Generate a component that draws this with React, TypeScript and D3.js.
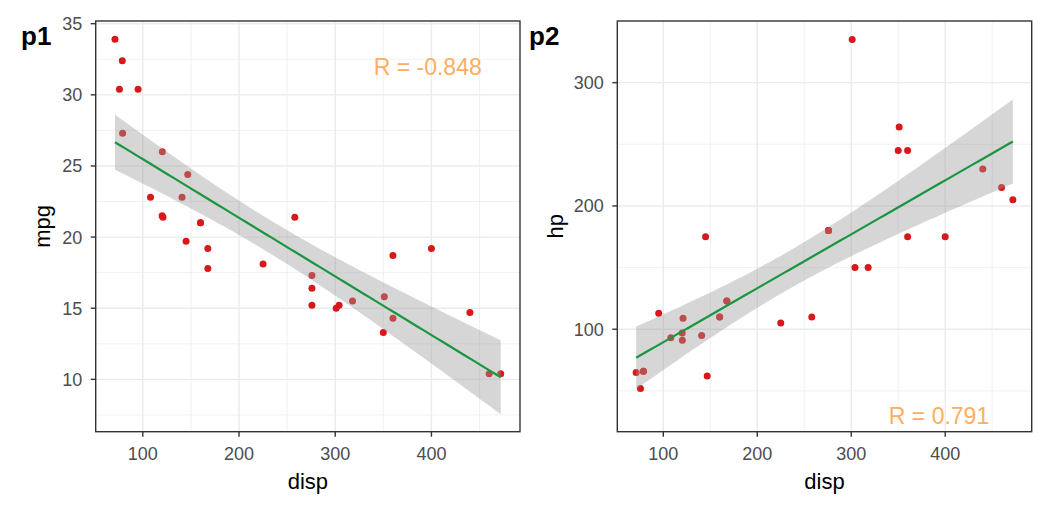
import React from "react";
import * as d3 from "d3";

// mtcars columns
const disp = [160, 160, 108, 258, 360, 225, 360, 146.7, 140.8, 167.6, 167.6, 275.8, 275.8, 275.8, 472, 460, 440, 78.7, 75.7, 71.1, 120.1, 318, 304, 350, 400, 79, 120.3, 95.1, 351, 145, 301, 121];
const mpg = [21, 21, 22.8, 21.4, 18.7, 18.1, 14.3, 24.4, 22.8, 19.2, 17.8, 16.4, 17.3, 15.2, 10.4, 10.4, 14.7, 32.4, 30.4, 33.9, 21.5, 15.5, 15.2, 13.3, 19.2, 27.3, 26, 30.4, 15.8, 19.7, 15, 21.4];
const hp = [110, 110, 93, 110, 175, 105, 245, 62, 95, 123, 123, 180, 180, 180, 205, 215, 230, 66, 52, 65, 97, 150, 150, 245, 175, 66, 91, 113, 264, 175, 335, 109];

const xTicks = [100, 200, 300, 400];
const xMinor = [150, 250, 350, 450];
const mpgTicks = [10, 15, 20, 25, 30, 35];
const mpgMinor = [7.5, 12.5, 17.5, 22.5, 27.5, 32.5];
const hpTicks = [100, 200, 300];
const hpMinor = [50, 150, 250];

const FONT = "'Liberation Sans', Arial, sans-serif";
const RED = "#d7191c";
const ORANGE = "#fdae61";
const GREEN = "#1a9641";

// lm fit with 95% confidence band, like geom_smooth(method = "lm")
function fitLm(xs: number[], ys: number[]) {
  const n = xs.length;
  const mx = d3.mean(xs)!;
  const my = d3.mean(ys)!;
  let sxx = 0, sxy = 0, syy = 0;
  for (let i = 0; i < n; i++) {
    sxx += (xs[i] - mx) ** 2;
    sxy += (xs[i] - mx) * (ys[i] - my);
    syy += (ys[i] - my) ** 2;
  }
  const b = sxy / sxx;
  const a = my - b * mx;
  let sse = 0;
  for (let i = 0; i < n; i++) sse += (ys[i] - a - b * xs[i]) ** 2;
  const s = Math.sqrt(sse / (n - 2));
  const t = 2.042272; // qt(0.975, 30)
  const [x0, x1] = d3.extent(xs) as [number, number];
  const grid = d3.range(80).map((i) => x0 + ((x1 - x0) * i) / 79);
  const pts = grid.map((x) => {
    const fit = a + b * x;
    const se = s * Math.sqrt(1 / n + (x - mx) ** 2 / sxx);
    return { x, fit, lo: fit - t * se, hi: fit + t * se };
  });
  const r = sxy / Math.sqrt(sxx * syy);
  return { pts, r };
}

type PanelProps = {
  left: number;
  right: number;
  ys: number[];
  yDomain: [number, number];
  yTicks: number[];
  yMinor: number[];
  yTitle: string;
  yTitleX: number;
  tag: string;
  tagX: number;
  labelPos: [number, number];
};

const top = 21;
const bottom = 431.7;

const Panel: React.FC<PanelProps> = (p) => {
  const x = d3.scaleLinear().domain([51.05, 492.05]).range([p.left, p.right]);
  const y = d3.scaleLinear().domain(p.yDomain).range([bottom, top]);
  const { pts, r } = fitLm(disp, p.ys);
  const band = d3
    .area<{ x: number; lo: number; hi: number }>()
    .x((d) => x(d.x))
    .y0((d) => y(d.lo))
    .y1((d) => y(d.hi));
  const line = d3
    .line<{ x: number; fit: number }>()
    .x((d) => x(d.x))
    .y((d) => y(d.fit));
  const cx = (p.left + p.right) / 2;
  const cy = (top + bottom) / 2;
  return (
    <g fontFamily={FONT}>
      <defs>
        <clipPath id={`clip-${p.tag}`}>
          <rect x={p.left} y={top} width={p.right - p.left} height={bottom - top} />
        </clipPath>
      </defs>
      <rect x={p.left} y={top} width={p.right - p.left} height={bottom - top} fill="#fff" />
      {xMinor.map((v) => (
        <line key={"xm" + v} x1={x(v)} x2={x(v)} y1={top} y2={bottom} stroke="#ebebeb" strokeWidth={0.7} />
      ))}
      {p.yMinor.map((v) => (
        <line key={"ym" + v} x1={p.left} x2={p.right} y1={y(v)} y2={y(v)} stroke="#ebebeb" strokeWidth={0.7} />
      ))}
      {xTicks.map((v) => (
        <line key={"xg" + v} x1={x(v)} x2={x(v)} y1={top} y2={bottom} stroke="#ebebeb" strokeWidth={1.4} />
      ))}
      {p.yTicks.map((v) => (
        <line key={"yg" + v} x1={p.left} x2={p.right} y1={y(v)} y2={y(v)} stroke="#ebebeb" strokeWidth={1.4} />
      ))}
      <g clipPath={`url(#clip-${p.tag})`}>
        {disp.map((d, i) => (
          <circle key={i} cx={x(d)} cy={y(p.ys[i])} r={3.5} fill={RED} />
        ))}
        <path d={band(pts) || ""} fill="#999999" fillOpacity={0.4} />
        <path d={line(pts) || ""} fill="none" stroke={GREEN} strokeWidth={2.2} />
      </g>
      <text
        x={x(p.labelPos[0])}
        y={y(p.labelPos[1])}
        dy="0.36em"
        fontSize={23}
        fill={ORANGE}
      >
        {`R = ${r.toFixed(3)}`}
      </text>
      <rect x={p.left} y={top} width={p.right - p.left} height={bottom - top} fill="none" stroke="#333333" strokeWidth={1.4} />
      {xTicks.map((v) => (
        <g key={"xt" + v}>
          <line x1={x(v)} x2={x(v)} y1={bottom} y2={bottom + 5} stroke="#333333" strokeWidth={1.4} />
          <text x={x(v)} y={bottom + 28} textAnchor="middle" fontSize={18} fill="#4d4d4d">
            {v}
          </text>
        </g>
      ))}
      {p.yTicks.map((v) => (
        <g key={"yt" + v}>
          <line x1={p.left - 5} x2={p.left} y1={y(v)} y2={y(v)} stroke="#333333" strokeWidth={1.4} />
          <text x={p.left - 13.5} y={y(v)} dy="0.36em" textAnchor="end" fontSize={18} fill="#4d4d4d">
            {v}
          </text>
        </g>
      ))}
      <text x={cx} y={489} textAnchor="middle" fontSize={22} fill="#000">
        disp
      </text>
      <text
        transform={`translate(${p.yTitleX},${cy}) rotate(-90)`}
        textAnchor="middle"
        fontSize={22}
        fill="#000"
      >
        {p.yTitle}
      </text>
      <text x={p.tagX} y={45} fontSize={26} fontWeight="bold" fill="#000">
        {p.tag}
      </text>
    </g>
  );
};

export default function App() {
  return (
    <div style={{ position: "absolute", left: 0, top: 0 }}>
      <svg width={1059} height={508} style={{ display: "block", background: "#fff" }}>
        <Panel
          left={95.7}
          right={520}
          ys={mpg}
          yDomain={[6.32, 35.19]}
          yTicks={mpgTicks}
          yMinor={mpgMinor}
          yTitle="mpg"
          yTitleX={50}
          tag="p1"
          tagX={21}
          labelPos={[340, 32]}
        />
        <Panel
          left={617.3}
          right={1031.7}
          ys={hp}
          yDomain={[16.9, 350]}
          yTicks={hpTicks}
          yMinor={hpMinor}
          yTitle="hp"
          yTitleX={563}
          tag="p2"
          tagX={529}
          labelPos={[340, 30]}
        />
      </svg>
    </div>
  );
}
